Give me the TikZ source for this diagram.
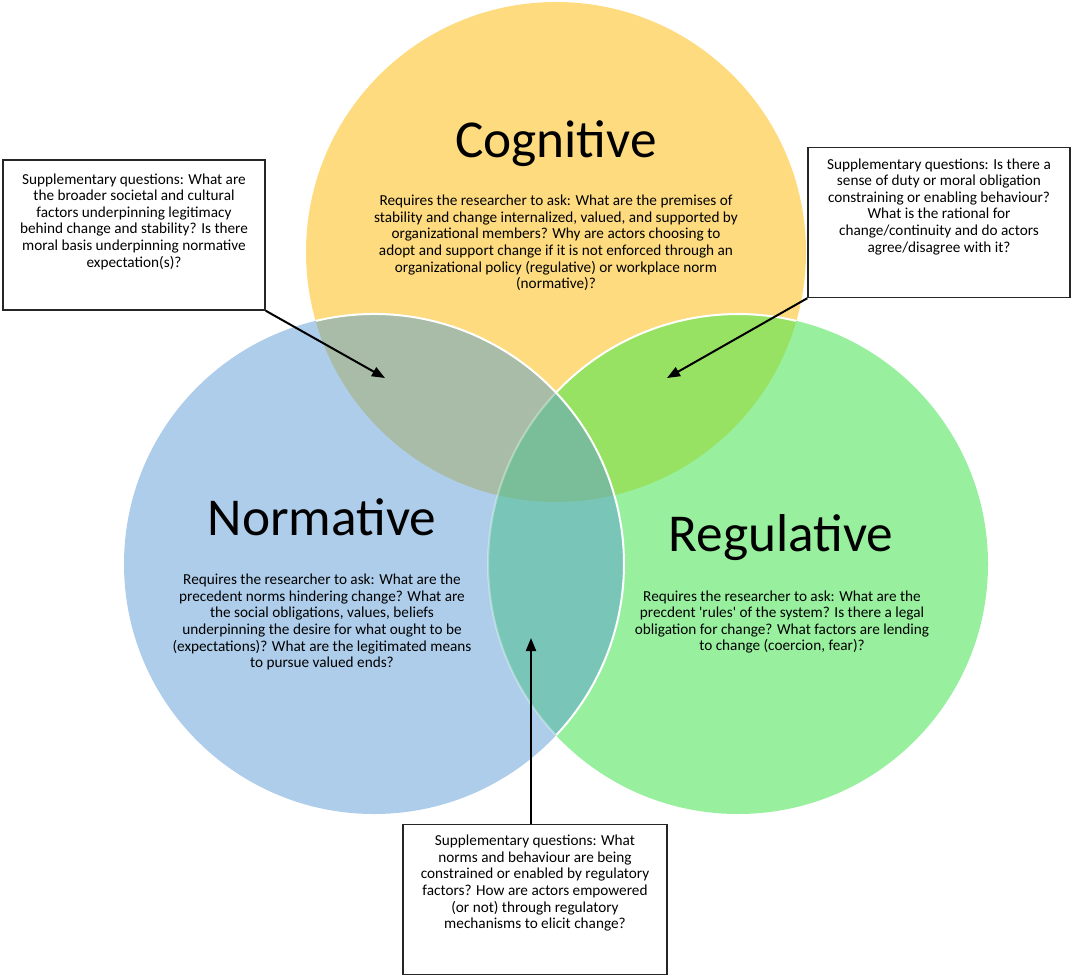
\documentclass[tikz,border=0pt]{standalone}
\usepackage{fontspec}
\setmainfont{Carlito}
\usetikzlibrary{arrows.meta,positioning}
\definecolor{cogyellow}{HTML}{FEDB7F}
\definecolor{normblue}{HTML}{AECDEA}
\definecolor{reggreen}{HTML}{98F09F}
\definecolor{cnmix}{HTML}{A9BCA7}
\definecolor{crmix}{HTML}{97E262}
\definecolor{nrmix}{HTML}{79C6B9}
\definecolor{allmix}{HTML}{7ABE99}
\tikzset{
    >={Triangle[length=13bp,width=10bp]},
    rim/.style={draw=white,line width=2bp},
    title/.style={font=\fontsize{53.5}{62}\selectfont,anchor=base},
    body/.style={font=\fontsize{15.3}{16.7}\selectfont,align=center,inner sep=0pt},
    qbox/.style={draw=black!85,line width=1.5bp,minimum width=262bp,minimum height=150bp,inner sep=0pt},
    pointer/.style={->,line width=2bp}
}
\begin{document}
\begin{tikzpicture}[x=1bp,y=-1bp]
    \useasboundingbox (0,0) rectangle (1072,977);

    % the three circles
    \coordinate (cog) at (556,252);
    \coordinate (norm) at (374,564);
    \coordinate (reg) at (738,564);
    \fill[cogyellow] (cog) circle[radius=250];
    \fill[reggreen] (reg) circle[radius=250];
    \fill[normblue] (norm) circle[radius=250];
    \begin{scope}
        \clip (cog) circle[radius=250];
        \fill[cnmix] (norm) circle[radius=250];
        \fill[crmix] (reg) circle[radius=250];
    \end{scope}
    \begin{scope}
        \clip (norm) circle[radius=250];
        \fill[nrmix] (reg) circle[radius=250];
        \clip (reg) circle[radius=250];
        \fill[allmix] (cog) circle[radius=250];
    \end{scope}
    \draw[rim,draw opacity=0.35] ([shift={(136.8:250)}]reg) arc[start angle=136.8,end angle=223.2,radius=250];
    \draw[rim] ([shift={(-136.8:250)}]reg) arc[start angle=-136.8,end angle=-76.6,radius=250];
    \draw[rim] ([shift={(-103.4:250)}]norm) arc[start angle=-103.4,end angle=43.2,radius=250];

    % titles and questions
    \node[title] (cogtitle) at (556,157) {Cognitive};
    \node[body] (cogtext) at (556,243) {Requires the researcher to ask: What are the premises of\\
        stability and change internalized, valued, and supported by\\
        organizational members? Why are actors choosing to\\
        adopt and support change if it is not enforced through an\\
        organizational policy (regulative) or workplace norm\\
        (normative)?};
    \node[title] (normtitle) at (322,535) {Normative};
    \node[body] (normtext) at (322,622) {Requires the researcher to ask: What are the\\
        precedent norms hindering change? What are\\
        the social obligations, values, beliefs\\
        underpinning the desire for what ought to be\\
        (expectations)? What are the legitimated means\\
        to pursue valued ends?};
    \node[title] (regtitle) at (781,551) {Regulative};
    \node[body] (regtext) at (782,622) {Requires the researcher to ask: What are the\\
        precdent \textquotesingle rules\textquotesingle{} of the system? Is there a legal\\
        obligation for change? What factors are lending\\
        to change (coercion, fear)?};

    % supplementary boxes
    \node[qbox] (lbox) at (134,235) {};
    \node[body,below=14bp of lbox.north] (ltext) {Supplementary questions: What are\\
        the broader societal and cultural\\
        factors underpinning legitimacy\\
        behind change and stability? Is there\\
        moral basis underpinning normative\\
        expectation(s)?};
    \node[qbox] (rbox) at (939,222.5) {};
    \node[body,below=11.5bp of rbox.north] (rtext) {Supplementary questions: Is there a\\
        sense of duty or moral obligation\\
        constraining or enabling behaviour?\\
        What is the rational for\\
        change/continuity and do actors\\
        agree/disagree with it?};
    \node[qbox,minimum width=264bp] (bbox) at (535,899.5) {};
    \node[body,below=11bp of bbox.north] (btext) {Supplementary questions: What\\
        norms and behaviour are being\\
        constrained or enabled by regulatory\\
        factors? How are actors empowered\\
        (or not) through regulatory\\
        mechanisms to elicit change?};

    % pointers into the overlaps
    \coordinate (cntip) at (385,378);
    \coordinate (crtip) at (667,378);
    \coordinate (nrtip) at (531,638);
    \draw[pointer] (lbox.south east) -- (cntip);
    \draw[pointer] (rbox.south west) -- (crtip);
    \draw[pointer] (bbox.north -| nrtip) -- (nrtip);
\end{tikzpicture}
\end{document}
